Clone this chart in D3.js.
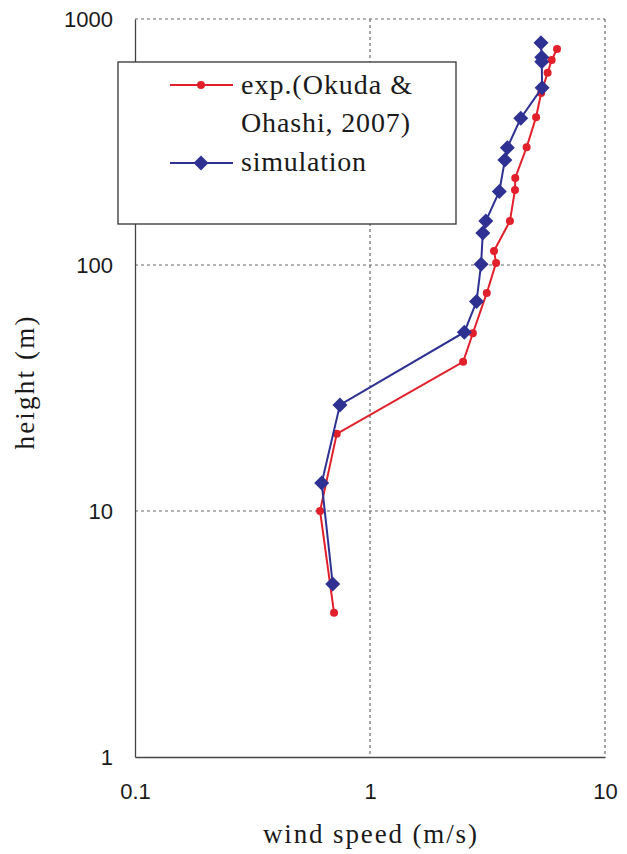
<!DOCTYPE html>
<html>
<head>
<meta charset="utf-8">
<script src="https://cdn.jsdelivr.net/npm/d3@7"></script>
<style>
  html, body { margin: 0; padding: 0; background: #fff; }
  svg { display: block; }
</style>
</head>
<body>
<div id="chart"></div>
<script>
// Observed wind profile (Okuda & Ohashi, 2007): height [m] and wind speed [m/s]
const expHeight = [755, 681, 605, 500, 399, 301, 226, 202, 151, 114, 102, 77, 52.8, 40.4, 20.6, 10, 3.86];
const expSpeed  = [6.25, 5.93, 5.70, 5.35, 5.09, 4.64, 4.15, 4.14, 3.94, 3.37, 3.44, 3.14, 2.74, 2.49, 0.722, 0.613, 0.703];

// Simulated wind profile
const simHeight = [801, 699, 671, 526, 395, 300, 267, 199, 151, 135, 100.7, 71, 53.3, 27.0, 13.0, 5.05];
const simSpeed  = [5.34, 5.38, 5.38, 5.40, 4.38, 3.84, 3.75, 3.55, 3.11, 3.02, 2.97, 2.84, 2.52, 0.745, 0.623, 0.694];

const xTicks = [0.1, 1, 10];
const yTicks = [1, 10, 100, 1000];
const xTickLabels = ["0.1", "1", "10"];
const yTickLabels = ["1", "10", "100", "1000"];

const seriesNames = ["exp.(Okuda &\nOhashi, 2007)", "simulation"];
const seriesColors = ["#e2202b", "#2e3192"];

const W = 627, H = 854;
const margin = { left: 135, right: 22, top: 19, bottom: 97 };

const svg = d3.select("#chart").append("svg")
  .attr("width", W).attr("height", H);

const x = d3.scaleLog().domain([0.1, 10]).range([margin.left, W - margin.right]);
const y = d3.scaleLog().domain([1, 1000]).range([H - margin.bottom, margin.top]);

const serif = "'Liberation Serif', 'DejaVu Serif', serif";
const sans = "'Liberation Sans', 'DejaVu Sans', sans-serif";

// dashed gridlines at the decades (including top and right edges)
const grid = svg.append("g").attr("stroke", "#6b6b6b").attr("stroke-width", 1.2)
  .attr("stroke-dasharray", "3,3");
xTicks.slice(1).forEach(v => {
  grid.append("line").attr("x1", x(v)).attr("x2", x(v))
    .attr("y1", y(1000)).attr("y2", y(1));
});
yTicks.slice(1).forEach(v => {
  grid.append("line").attr("x1", x(0.1)).attr("x2", x(10))
    .attr("y1", y(v)).attr("y2", y(v));
});

// solid left and bottom axes
const axisX = d3.axisBottom(x).tickValues(xTicks).tickSize(0)
  .tickFormat((d, i) => xTickLabels[i]);
const axisY = d3.axisLeft(y).tickValues(yTicks).tickSize(0)
  .tickFormat((d, i) => yTickLabels[i]);

const gx = svg.append("g").attr("transform", `translate(0,${y(1)})`).call(axisX);
gx.select(".domain").attr("stroke", "#444").attr("stroke-width", 1.3);
gx.selectAll("text").attr("font-family", sans).attr("font-size", 22)
  .attr("fill", "#1a1a1a").attr("dy", "0").attr("y", 42);

const gy = svg.append("g").attr("transform", `translate(${x(0.1)},0)`).call(axisY);
gy.select(".domain").attr("stroke", "#444").attr("stroke-width", 1.3);
gy.selectAll("text").attr("font-family", sans).attr("font-size", 22)
  .attr("fill", "#1a1a1a").attr("x", -22).attr("dy", "0.36em");

// axis titles
svg.append("text")
  .attr("x", 370).attr("y", 843)
  .attr("text-anchor", "middle")
  .attr("font-family", serif).attr("font-size", 27).attr("fill", "#1a1a1a")
  .attr("textLength", 214).attr("lengthAdjust", "spacing")
  .text("wind speed (m/s)");

svg.append("text")
  .attr("transform", "translate(34,383) rotate(-90)")
  .attr("text-anchor", "middle")
  .attr("font-family", serif).attr("font-size", 27).attr("fill", "#1a1a1a")
  .attr("textLength", 133).attr("lengthAdjust", "spacing")
  .text("height (m)");

// series lines and markers
const line = d3.line().x(d => x(d[0])).y(d => y(d[1]));
const expPts = expSpeed.map((v, i) => [v, expHeight[i]]);
const simPts = simSpeed.map((v, i) => [v, simHeight[i]]);

const diamond = s => `M0,${-s}L${s},0L0,${s}L${-s},0Z`;

svg.append("path").datum(expPts).attr("d", line)
  .attr("fill", "none").attr("stroke", seriesColors[0]).attr("stroke-width", 2);
svg.append("g").selectAll("circle").data(expPts).join("circle")
  .attr("cx", d => x(d[0])).attr("cy", d => y(d[1])).attr("r", 4)
  .attr("fill", seriesColors[0]);

svg.append("path").datum(simPts).attr("d", line)
  .attr("fill", "none").attr("stroke", seriesColors[1]).attr("stroke-width", 2);
svg.append("g").selectAll("path").data(simPts).join("path")
  .attr("transform", d => `translate(${x(d[0])},${y(d[1])})`)
  .attr("d", diamond(7.5))
  .attr("fill", seriesColors[1]);

// legend
const lg = svg.append("g");
lg.append("rect").attr("x", 118).attr("y", 62).attr("width", 338).attr("height", 162)
  .attr("fill", "#fff").attr("stroke", "#333").attr("stroke-width", 1.3);

lg.append("line").attr("x1", 170).attr("x2", 233).attr("y1", 85).attr("y2", 85)
  .attr("stroke", seriesColors[0]).attr("stroke-width", 2);
lg.append("circle").attr("cx", 201).attr("cy", 85).attr("r", 4).attr("fill", seriesColors[0]);

lg.append("line").attr("x1", 170).attr("x2", 233).attr("y1", 163).attr("y2", 163)
  .attr("stroke", seriesColors[1]).attr("stroke-width", 2);
lg.append("path").attr("transform", "translate(201,163)").attr("d", diamond(7.5))
  .attr("fill", seriesColors[1]);

const expLines = seriesNames[0].split("\n");
const legendText = [
  { t: expLines[0], y: 94, len: 171 },
  { t: expLines[1], y: 132, len: 169 },
  { t: seriesNames[1], y: 171, len: 125 }
];
lg.selectAll("text.lt").data(legendText).join("text")
  .attr("class", "lt")
  .attr("x", 241).attr("y", d => d.y)
  .attr("font-family", serif).attr("font-size", 28).attr("fill", "#1a1a1a")
  .attr("textLength", d => d.len).attr("lengthAdjust", "spacing")
  .text(d => d.t);
</script>
</body>
</html>
